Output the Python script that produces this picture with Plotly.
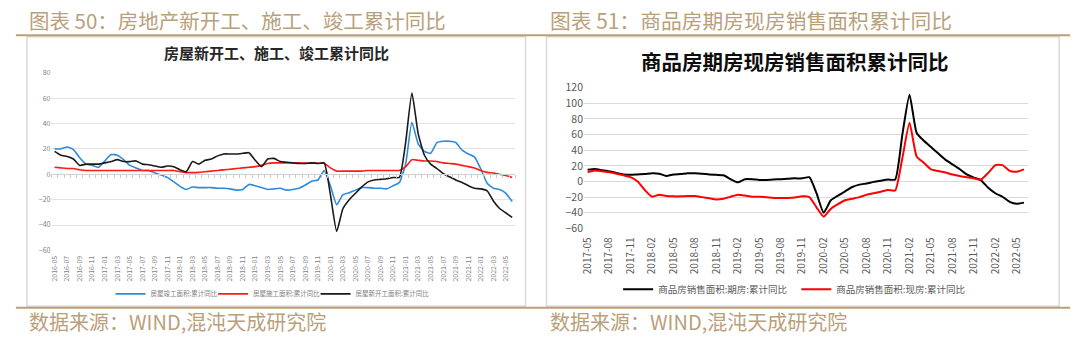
import plotly.graph_objects as go
import pandas as pd

W, H = 1080, 343

# ---------------- data ----------------
months_left = pd.date_range("2016-05-01", "2022-06-01", freq="MS").strftime("%Y-%m").tolist()
completion = [20, 20, 21.5, 19.5, 13, 8, 7, 5.5, 10.5, 15.5,
              15, 11.5, 7, 5, 3, 3, 1, -0.5, -2.5, -6,
              -9.5, -12, -10, -10.5, -10.5, -10.5, -11, -11, -11.5, -12.5,
              -12, -8, -9, -10.5, -12, -11.5, -11, -12.5, -12, -11,
              -8.5, -5.5, -4.5, 3, -9, -24, -16, -14.5, -12.5, -10.5,
              -10.5, -11, -11, -11.5, -9, -6.5, 8, 41, 24, 18,
              16.5, 25, 26, 26, 25, 19, 16, 13.5, 4, -7,
              -11, -12, -15, -21.5]
construction = [5.5, 5, 4.5, 4.5, 3.5, 3, 3, 3, 3, 3,
                3, 3, 3, 3, 3, 3, 3, 3, 3, 3,
                2, 1.3, 1.3, 1.5, 2, 2.5, 3, 3.5, 4, 4.5,
                5, 5.5, 6, 7, 8.5, 9, 9, 9, 9, 9,
                8.8, 8.8, 8.7, 8.7, 5, 2.5, 2.5, 2.5, 2.5, 2.5,
                3, 3, 3, 3, 3, 3, 6, 11.5, 11, 10.5,
                10.5, 10, 9, 8.5, 8, 7, 6, 5, 3, 1.5,
                1, 0, -1, -2.5]
new_starts = [18, 15, 14, 12, 7, 8, 8, 8, 9, 10,
              11.5, 10, 10, 10.5, 8, 7.5, 6.5, 5.5, 6.5, 6,
              3.5, 2, 10, 8, 11, 12, 14.5, 16, 16, 16,
              16.5, 17, 11, 6, 12, 12.5, 10, 9.5, 9, 8.5,
              8.5, 9, 8.5, 9, -16, -45, -27, -20, -15, -10,
              -6, -4.5, -4, -3.5, -2.5, -2.5, 25, 64, 32, 15,
              8, 4.5, 0.5, -2, -4.5, -6.5, -9, -11, -11.5, -13,
              -21, -27, -30.5, -34]

months_right = pd.date_range("2017-05-01", "2022-06-01", freq="MS").strftime("%Y-%m").tolist()
futures = [15, 16, 14.5, 13, 11, 9, 8.5, 9, 9.5, 10.5,
           10, 7, 9, 9.5, 10.5, 10.5, 10, 9, 8.5, 8,
           3, -1, 3, 3, 2, 2, 2.5, 3, 3.5, 4,
           4, 5.5, -15, -40, -24, -18, -12.5, -7, -4, -2.5,
           -0.5, 1, 2.5, 2.5, 60, 111, 62, 52, 44, 36,
           28, 22, 16, 9, 5, 1.5, -8, -15, -19.5, -26,
           -28.5, -27]
spot = [12, 14, 13, 12, 10, 8, 5.5, 0, -11, -19.5,
        -17, -18.5, -19, -19, -18.5, -18.5, -20, -21.5, -23, -22,
        -19.5, -17, -18, -19.5, -19.5, -20, -21, -21, -21, -20.5,
        -19, -20, -33, -45, -35, -29, -24, -22, -20, -17,
        -15, -13, -11, -11.5, 30, 75, 32, 24, 15.5, 13.5,
        11.5, 9, 7, 5.5, 4, 2.5, 11, 21, 21, 13.5,
        12.5, 15.5]

left_yticks = [-60, -40, -20, 0, 20, 40, 60, 80]
right_yticks = [-60, -40, -20, 0, 20, 40, 60, 80, 100, 120]

header_left = "图表 50：房地产新开工、施工、竣工累计同比"
header_right = "图表 51：商品房期房现房销售面积累计同比"
title_left = "房屋新开工、施工、竣工累计同比"
title_right = "商品房期房现房销售面积累计同比"
source_text = "数据来源：WIND,混沌天成研究院"

# ---------------- layout helpers ----------------
def px(x):
    return x / W

def py(y):
    return 1 - y / H

L_dom_x = [px(46.7), px(512.7)]
L_dom_y = [py(253.5), py(67.7)]
R_dom_x = [px(581.7), px(1027.3)]
R_dom_y = [py(230.5), py(83.3)]

FONT = "Noto Sans CJK SC, Noto Sans, sans-serif"
GOLD = "#BD9F72"
HEAD = "#B9A07A"

fig = go.Figure()

# left chart traces
fig.add_trace(go.Scatter(x=months_left, y=completion, name="房屋竣工面积:累计同比",
                         mode="lines", line=dict(color="#2E8BDA", width=1.6, shape="spline", smoothing=0.5),
                         xaxis="x", yaxis="y", legend="legend"))
fig.add_trace(go.Scatter(x=months_left, y=construction, name="房屋施工面积:累计同比",
                         mode="lines", line=dict(color="#FF1A1A", width=1.6, shape="spline", smoothing=0.5),
                         xaxis="x", yaxis="y", legend="legend3"))
fig.add_trace(go.Scatter(x=months_left, y=new_starts, name="房屋新开工面积:累计同比",
                         mode="lines", line=dict(color="#1A1A1A", width=1.6, shape="spline", smoothing=0.5),
                         xaxis="x", yaxis="y", legend="legend4"))
# helper (empty) trace for the tick axis crossing at 0
fig.add_trace(go.Scatter(x=[], y=[], xaxis="x3", yaxis="y", showlegend=False, hoverinfo="skip"))

# right chart traces
fig.add_trace(go.Scatter(x=months_right, y=futures, name="商品房销售面积:期房:累计同比",
                         mode="lines", line=dict(color="#000000", width=2, shape="spline", smoothing=0.5),
                         xaxis="x2", yaxis="y2", legend="legend2"))
fig.add_trace(go.Scatter(x=months_right, y=spot, name="商品房销售面积:现房:累计同比",
                         mode="lines", line=dict(color="#FF0000", width=2, shape="spline", smoothing=0.5),
                         xaxis="x2", yaxis="y2", legend="legend5"))

nL = len(months_left)
nR = len(months_right)
zero_pos = L_dom_y[0] + (0 - left_yticks[0]) / (left_yticks[-1] - left_yticks[0]) * (L_dom_y[1] - L_dom_y[0])

shapes = [
    dict(type="rect", xref="paper", yref="paper", x0=px(22), x1=px(523), y0=py(312), y1=py(30),
         line=dict(color="#D9D9D9", width=1.5), fillcolor="white", layer="below"),
    dict(type="rect", xref="paper", yref="paper", x0=px(544), x1=px(1059), y0=py(312), y1=py(30),
         line=dict(color="#D9D9D9", width=1.5), fillcolor="white", layer="below"),
    dict(type="line", xref="paper", yref="paper", x0=px(11), x1=px(1070), y0=py(28.5), y1=py(28.5),
         line=dict(color=GOLD, width=2)),
    dict(type="line", xref="paper", yref="paper", x0=px(11), x1=px(1070), y0=py(313.5), y1=py(313.5),
         line=dict(color=GOLD, width=2)),
]

annotations = [
    dict(text=header_left, x=px(22), y=py(13), xref="paper", yref="paper", xanchor="left", yanchor="middle",
         showarrow=False, font=dict(family=FONT, size=20.5, color=HEAD)),
    dict(text=header_right, x=px(546), y=py(13), xref="paper", yref="paper", xanchor="left", yanchor="middle",
         showarrow=False, font=dict(family=FONT, size=20.8, color=HEAD)),
    dict(text=source_text, x=px(22), y=py(328), xref="paper", yref="paper", xanchor="left", yanchor="middle",
         showarrow=False, font=dict(family=FONT, size=20, color=HEAD)),
    dict(text=source_text, x=px(546), y=py(328), xref="paper", yref="paper", xanchor="left", yanchor="middle",
         showarrow=False, font=dict(family=FONT, size=20, color=HEAD)),
    dict(text="<b>" + title_left + "</b>", x=px(272.5), y=py(47), xref="paper", yref="paper",
         xanchor="center", yanchor="middle", showarrow=False, font=dict(family=FONT, size=15, color="#262626")),
    dict(text="<b>" + title_right + "</b>", x=px(794), y=py(55), xref="paper", yref="paper",
         xanchor="center", yanchor="middle", showarrow=False, font=dict(family=FONT, size=20.5, color="#0D0D0D")),
]

def leg(x, y, size, color):
    return dict(orientation="h", x=px(x), y=py(y), xanchor="left", yanchor="middle",
                font=dict(size=size, color=color), bgcolor="rgba(0,0,0,0)", visible=True)

fig.update_layout(
    width=W, height=H,
    margin=dict(l=0, r=0, t=0, b=0),
    paper_bgcolor="white", plot_bgcolor="rgba(0,0,0,0)",
    font=dict(family=FONT),
    showlegend=True,
    shapes=shapes,
    annotations=annotations,
    xaxis=dict(domain=L_dom_x, anchor="y", type="category", range=[-0.5, nL - 0.5],
               tickvals=months_left[::2], ticktext=months_left[::2], tickangle=-90,
               tickfont=dict(size=7, color="#7F7F7F"), showgrid=False, zeroline=False,
               showline=False, ticks="", ticklabelstandoff=3),
    xaxis3=dict(domain=L_dom_x, anchor="free", position=zero_pos, overlaying="x",
                range=[-0.5, nL - 0.5], tickvals=[k - 0.5 for k in range(nL + 1)],
                ticks="outside", ticklen=3, tickcolor="#C8C8C8", tickwidth=1,
                showticklabels=False, showgrid=False, zeroline=False,
                showline=True, linecolor="#D0D0D0", linewidth=1),
    yaxis=dict(domain=L_dom_y, anchor="x", range=[left_yticks[0], left_yticks[-1]],
               tickvals=left_yticks, tickfont=dict(size=7, color="#7F7F7F"),
               gridcolor="#E3E3E3", gridwidth=1, zeroline=False, showline=False, ticks=""),
    xaxis2=dict(domain=R_dom_x, anchor="y2", type="category", range=[-0.5, nR - 0.5],
                tickvals=months_right[::3], ticktext=months_right[::3], tickangle=-90,
                tickfont=dict(size=10, color="#595959"), showgrid=False, zeroline=False,
                showline=False, ticks="", ticklabelstandoff=6),
    yaxis2=dict(domain=R_dom_y, anchor="x2", range=[right_yticks[0], right_yticks[-1]],
                tickvals=right_yticks, tickfont=dict(size=10.5, color="#595959"),
                gridcolor="#D9D9D9", gridwidth=1, zeroline=False, showline=False, ticks=""),
    legend=leg(106, 299, 6.5, "#7F7F7F"),
    legend3=leg(209, 299, 6.5, "#7F7F7F"),
    legend4=leg(312, 299, 6.5, "#7F7F7F"),
    legend2=leg(616, 294, 9.5, "#595959"),
    legend5=leg(795, 294, 9.5, "#595959"),
)

fig.write_html("out.html")
